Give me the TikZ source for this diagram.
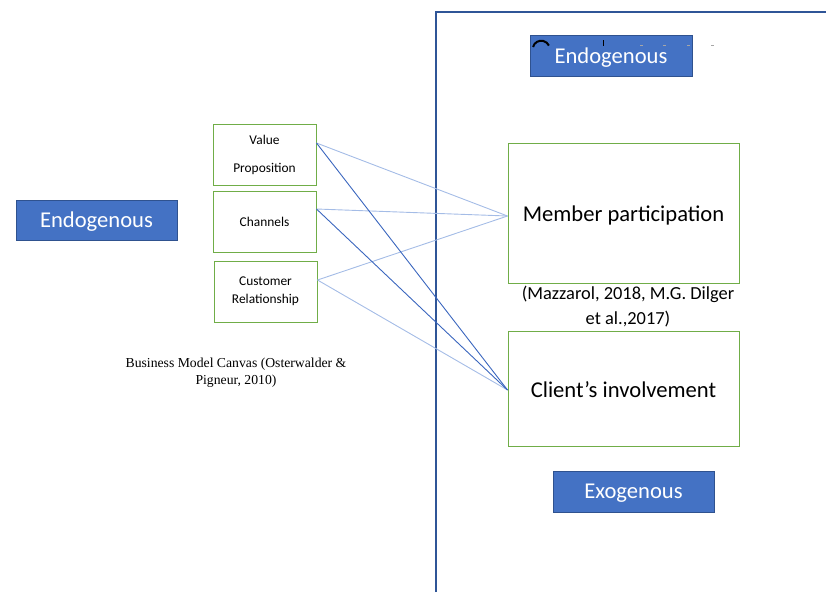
\documentclass[tikz,border=0pt]{standalone}
\usepackage{fontspec}
\setmainfont{Carlito}
\newfontfamily\timesfont{Liberation Serif}
\usetikzlibrary{calc}
\definecolor{boxblue}{HTML}{4472C4}
\definecolor{boxedge}{HTML}{2F528F}
\definecolor{frameblue}{HTML}{2F5597}
\definecolor{boxgreen}{HTML}{70AD47}
\definecolor{lightline}{HTML}{A4BCE6}
\definecolor{darkline}{HTML}{3A66BE}
\newcommand{\lowr}[2]{\raisebox{-#1}[\height][\depth]{#2}}
\tikzset{
  bluebox/.style={draw=boxedge, fill=boxblue, line width=0.8pt, text=white, inner sep=0pt,
    font=\fontsize{22.6}{26}\selectfont},
  greenbox/.style={draw=boxgreen, line width=1pt, inner sep=0pt, align=center},
  lightconn/.style={draw=lightline, line width=0.9pt},
  darkconn/.style={draw=darkline, line width=0.9pt},
  framestyle/.style={draw=frameblue, line width=2.6pt}
}
\begin{document}
\begin{tikzpicture}[x=1pt,y=-1pt]
\useasboundingbox (0,0) rectangle (826,592);
% frame
\coordinate (fb) at (436,592);
\coordinate (fc) at (436,12);
\coordinate (fr) at (826,12);
\draw[framestyle] (fb) -- (fc) -- (fr);
% left nodes
\node[bluebox, minimum width=161pt, minimum height=40pt] (endoL) at (96.5,220) {\lowr{2pt}{Endogenous}};
\node[greenbox, minimum width=103pt, minimum height=61pt, font=\fontsize{13.4}{28}\selectfont] (vp) at (264.5,154.5) {Value\\Proposition};
\node[greenbox, minimum width=103pt, minimum height=61pt, font=\fontsize{13.4}{18}\selectfont] (ch) at (264.5,221.5) {Channels};
\node[greenbox, minimum width=103pt, minimum height=61pt, font=\fontsize{13.4}{18}\selectfont] (cr) at (265.5,291.5) {Customer\\Relationship};
\node[align=center, font=\timesfont\fontsize{13.7}{17}\selectfont] (bmc) at (236,373) {Business Model Canvas (Osterwalder \&\\Pigneur, 2010)};
% right nodes
\node[bluebox, minimum width=162pt, minimum height=41pt] (endoT) at (611,55.5) {\lowr{2.5pt}{Endogenous}};
\draw[line width=2pt, black] (533,47) arc[start angle=165, end angle=25, radius=8.5pt];
\draw[line width=1.8pt, black] (603.5,40) -- (603.5,46);
\draw[line width=0.8pt, gray!70] (640,45) -- (643,45) (663,45) -- (666,45) (687,45) -- (690,45) (711,45) -- (714,45);
\node[greenbox, minimum width=231pt, minimum height=140pt, font=\fontsize{22.6}{26}\selectfont] (mp) at (623.5,213) {\lowr{2pt}{Member participation}};
\node[align=center, font=\fontsize{18.4}{25}\selectfont] (cit) at (628,307) {(Mazzarol, 2018, M.G. Dilger\\et al.,2017)};
\node[greenbox, minimum width=231pt, minimum height=115pt, font=\fontsize{22.6}{26}\selectfont] (ci) at (623.5,388.5) {\lowr{1pt}{Client’s involvement}};
\node[bluebox, minimum width=161pt, minimum height=41pt] (exo) at (633.5,491.5) {\lowr{1.5pt}{Exogenous}};
% connectors
\coordinate (vpo) at ($(vp.east)+(0,-11.5)$);
\coordinate (cho) at ($(ch.east)+(0,-12.5)$);
\coordinate (cro) at ($(cr.east)+(0,-11.5)$);
\coordinate (mpi) at ($(mp.west)+(0,3)$);
\coordinate (cii) at ($(ci.west)+(0,1.5)$);
\draw[lightconn] (vpo) -- (mpi);
\draw[lightconn] (cho) -- (mpi);
\draw[lightconn] (cro) -- (mpi);
\draw[lightconn] (cro) -- (cii);
\draw[darkconn] (vpo) -- (cii);
\draw[darkconn] (cho) -- (cii);
\end{tikzpicture}
\end{document}
